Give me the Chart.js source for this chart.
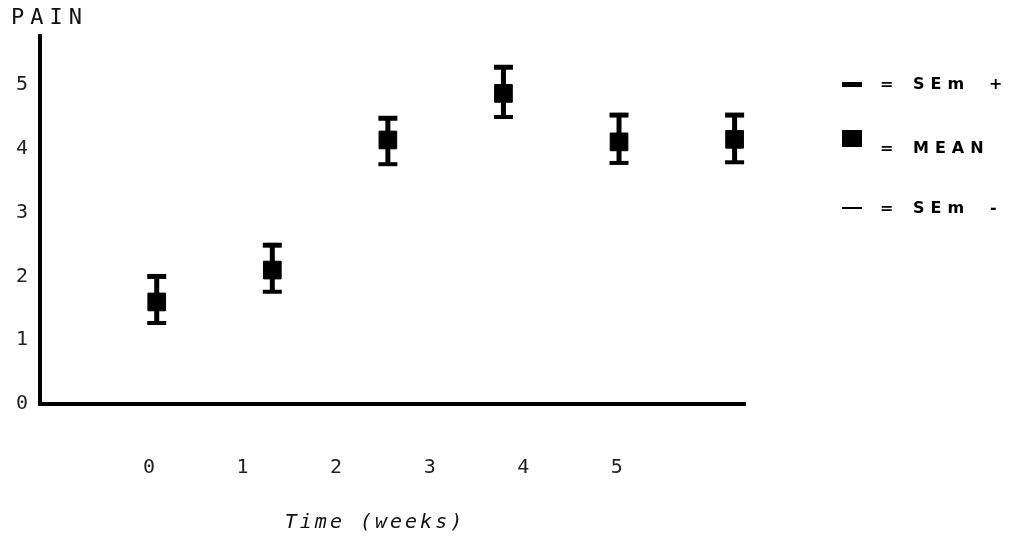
<!DOCTYPE html>
<html>
<head>
<meta charset="utf-8">
<script src="https://cdn.jsdelivr.net/npm/chart.js@4.4.1/dist/chart.umd.min.js"></script>
<style>
html, body { margin: 0; padding: 0; background: #fff; }
</style>
</head>
<body>
<canvas id="myChart" width="1009" height="547"></canvas>
<script>
// weeks and pain scores
var weeks = [0, 1, 2, 3, 4, 5];
var meanPain = [1.60, 2.10, 4.14, 4.87, 4.11, 4.15];
var semUpper = [2.00, 2.49, 4.48, 5.28, 4.53, 4.53];
var semLower = [1.27, 1.76, 3.76, 4.50, 3.78, 3.79];
var xTickLabels = ['0', '1', '2', '3', '4', '5'];
var yTickValues = [0, 1, 2, 3, 4, 5];

var tickFont = { family: '"DejaVu Sans Mono"', size: 20 };

function pts(ys) {
    return weeks.map(function (w, i) { return { x: w, y: ys[i] }; });
}

// stems: pairs of points broken by null so each week gets its own segment
var stems = [];
weeks.forEach(function (w, i) {
    stems.push({ x: w, y: semLower[i] });
    stems.push({ x: w, y: semUpper[i] });
    stems.push({ x: w, y: null });
});

var textPlugin = {
    id: 'plotText',
    afterDraw: function (chart) {
        var ctx = chart.ctx;
        ctx.save();
        ctx.fillStyle = '#111';
        ctx.textBaseline = 'middle';
        ctx.textAlign = 'left';

        ctx.font = '22px "DejaVu Sans Mono"';
        ctx.letterSpacing = '6px';
        ctx.fillText('PAIN', 11, 18);

        ctx.font = 'italic 20px "DejaVu Sans Mono"';
        ctx.letterSpacing = '3px';
        ctx.textAlign = 'center';
        ctx.fillText('Time (weeks)', 375, 523);

        // legend
        ctx.textAlign = 'left';
        ctx.fillStyle = '#000';
        ctx.fillRect(842, 82, 20, 5);
        ctx.fillRect(842, 130, 20, 17);
        ctx.fillRect(842, 207, 20, 2);

        ctx.font = 'bold 16px "DejaVu Sans"';
        ctx.letterSpacing = '6px';
        ctx.fillText('=', 880, 85);
        ctx.fillText('SEm', 913, 85);
        ctx.fillText('+', 989, 85);
        ctx.fillText('=', 880, 149);
        ctx.fillText('MEAN', 913, 149);
        ctx.fillText('=', 880, 209);
        ctx.fillText('SEm', 913, 209);
        ctx.fillText('-', 990, 209);
        ctx.restore();
    }
};

var config = {
    data: {
        datasets: [{
            type: 'scatter',
            label: 'MEAN',
            data: pts(meanPain),
            pointStyle: 'rect',
            pointRadius: 12.5,
            backgroundColor: '#000',
            borderColor: '#000',
            borderWidth: 1
        }, {
            type: 'scatter',
            label: 'SEm +',
            data: pts(semUpper),
            pointStyle: 'line',
            pointRadius: 9.5,
            borderColor: '#000',
            borderWidth: 5
        }, {
            type: 'scatter',
            label: 'SEm -',
            data: pts(semLower),
            pointStyle: 'line',
            pointRadius: 9.5,
            borderColor: '#000',
            borderWidth: 4
        }, {
            type: 'line',
            label: 'stem',
            data: stems,
            spanGaps: false,
            pointRadius: 0,
            borderColor: '#000',
            borderWidth: 5
        }]
    },
    options: {
        responsive: false,
        animation: false,
        devicePixelRatio: 1,
        layout: { padding: { top: 36, right: 264, left: 0, bottom: 0 } },
        plugins: {
            legend: { display: false },
            tooltip: { enabled: false }
        },
        scales: {
            x: {
                type: 'linear',
                min: -1.01,
                max: 5.09,
                display: false
            },
            x2: {
                type: 'linear',
                position: 'bottom',
                min: -1.165,
                max: 6.37,
                afterBuildTicks: function (scale) {
                    scale.ticks = weeks.map(function (w) { return { value: w }; });
                },
                afterFit: function (scale) { scale.height = 143; },
                ticks: {
                    autoSkip: false,
                    maxRotation: 0,
                    padding: 52,
                    color: '#222',
                    font: tickFont,
                    callback: function (v) { return xTickLabels[weeks.indexOf(v)]; }
                },
                grid: { display: false, drawTicks: false },
                border: { display: true, width: 4, color: '#000' }
            },
            y: {
                type: 'linear',
                min: 0,
                max: 5.77,
                afterBuildTicks: function (scale) {
                    scale.ticks = yTickValues.map(function (v) { return { value: v }; });
                },
                afterFit: function (scale) { scale.width = 40; },
                ticks: {
                    padding: 12,
                    color: '#222',
                    font: tickFont
                },
                grid: { display: false, drawTicks: false },
                border: { display: true, width: 4, color: '#000' }
            }
        }
    },
    plugins: [textPlugin]
};

var myChart = new Chart(document.getElementById('myChart'), config);
</script>
</body>
</html>
